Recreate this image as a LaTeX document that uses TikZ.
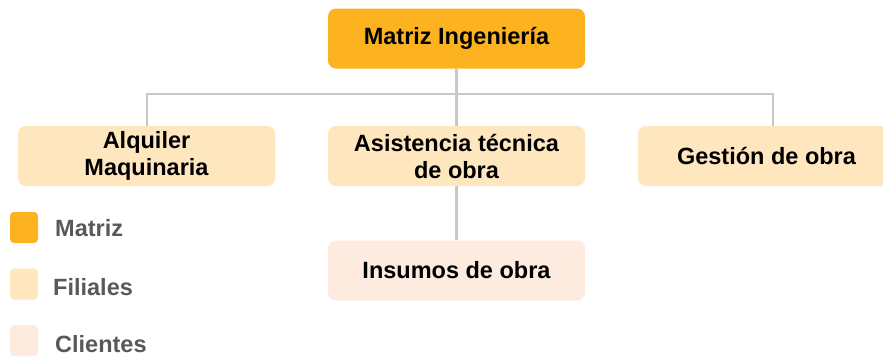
\documentclass[tikz,border=0pt]{standalone}
\usepackage{fontspec}
\setmainfont{Liberation Sans}
\definecolor{matriz}{HTML}{FDB21F}
\definecolor{filial}{HTML}{FEE6BF}
\definecolor{cliente}{HTML}{FDEBE0}
\definecolor{conn}{HTML}{C8C8C8}
\definecolor{legtxt}{HTML}{595959}
\tikzset{
  box/.style={rounded corners=8pt, minimum width=257pt, minimum height=60pt, inner sep=0pt, align=center,
    font=\fontsize{23.5}{27}\selectfont\bfseries, text=black},
  legbox/.style={rounded corners=4pt, minimum width=28pt, minimum height=31pt, inner sep=0pt},
  legtext/.style={anchor=west, inner sep=0pt, font=\fontsize{23.5}{27}\selectfont\bfseries, text=legtxt},
  conline/.style={draw=conn, line width=2.5pt}
}
\begin{document}
\begin{tikzpicture}[x=1pt,y=-1pt]
\clip (0,0) rectangle (883,356);
\fill[white] (0,0) rectangle (883,356);
\coordinate (hl) at (147,94);
\coordinate (hr) at (773,94);
\node[box, fill=matriz] (top) at (456.5,38.5) {Matriz Ingeniería};
\node[box, fill=filial] (alq) at (146.5,156) {Alquiler\\Maquinaria};
\node[box, fill=filial] (asi) at (456.5,156) {Asistencia técnica\\de obra};
\node[box, fill=filial] (ges) at (766.5,156) {Gestión de obra};
\node[box, fill=cliente] (ins) at (456.5,270.5) {Insumos de obra};
\draw[conline] (top.south) -- (asi.north);
\draw[conline] (alq.north -| hl) -- (hl) -- (hr) -- (ges.north -| hr);
\draw[conline] (asi.south) -- (ins.north);
% legend
\node[legbox, fill=matriz] (lm) at (24,227.5) {};
\node[legbox, fill=filial] (lf) at (24,284) {};
\node[legbox, fill=cliente] (lc) at (24,340.5) {};
\node[legtext] (tm) at (55,228) {Matriz};
\node[legtext] (tf) at (53,287) {Filiales};
\node[legtext] (tc) at (55,344) {Clientes};
\end{tikzpicture}
\end{document}
